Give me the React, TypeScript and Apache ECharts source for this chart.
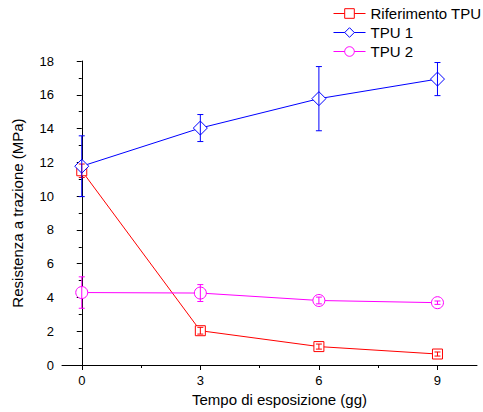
import React, { useEffect, useRef } from "react";
import * as echarts from "echarts";

const xValues = [0, 3, 6, 9];
const refMean = [11.5, 2.03, 1.09, 0.65];
const refErr = [0.4, 0.2, 0.15, 0.12];
const tpu1Mean = [11.77, 14.03, 15.77, 16.93];
const tpu1Err = [1.8, 0.8, 1.9, 0.98];
const tpu2Mean = [4.29, 4.26, 3.82, 3.69];
const tpu2Err = [0.93, 0.5, 0.2, 0.1];
const xMajorTicks = [0, 3, 6, 9];
const xMinorTicks = [1.5, 4.5, 7.5];
const seriesNames = ["Riferimento TPU", "TPU 1", "TPU 2"];

const RED = "#ff0000";
const BLUE = "#0000ff";
const MAG = "#ff00ff";
const FONT = "Liberation Sans, Arial, sans-serif";

function errData(mean: number[], err: number[]) {
  return xValues.map((x, i) => [x, mean[i] - err[i], mean[i] + err[i]]);
}

function errSeries(mean: number[], err: number[], color: string) {
  return {
    type: "custom",
    xAxisIndex: 0,
    yAxisIndex: 0,
    z: 5,
    silent: true,
    data: errData(mean, err),
    renderItem: (params: any, api: any) => {
      const x = api.value(0);
      const lo = api.coord([x, api.value(1)]);
      const hi = api.coord([x, api.value(2)]);
      const w = 3;
      const style = { stroke: color, lineWidth: 1, fill: "none" };
      return {
        type: "group",
        children: [
          { type: "line", shape: { x1: lo[0], y1: lo[1], x2: hi[0], y2: hi[1] }, style },
          { type: "line", shape: { x1: lo[0] - w, y1: lo[1], x2: lo[0] + w, y2: lo[1] }, style },
          { type: "line", shape: { x1: hi[0] - w, y1: hi[1], x2: hi[0] + w, y2: hi[1] }, style },
        ],
      };
    },
  };
}

function lineSeries(name: string, mean: number[], color: string, symbol: string, size: number) {
  return {
    name,
    type: "line",
    xAxisIndex: 0,
    yAxisIndex: 0,
    data: xValues.map((x, i) => [x, mean[i]]),
    symbol,
    symbolSize: size,
    showAllSymbol: true,
    z: 3,
    lineStyle: { color, width: 1 },
    itemStyle: { color: "#ffffff", borderColor: color, borderWidth: 1 },
  };
}

function legendItem(name: string, color: string) {
  return {
    name,
    itemStyle: { color: "#ffffff", borderColor: color, borderWidth: 1 },
    lineStyle: { color, width: 1 },
  };
}

export default function App() {
  const ref = useRef<HTMLDivElement>(null);
  useEffect(() => {
    document.body.style.margin = "0";
    const chart = echarts.init(ref.current!, null, { renderer: "svg" });
    chart.setOption({
      animation: false,
      backgroundColor: "#ffffff",
      textStyle: { fontFamily: FONT },
      grid: { left: 62, right: 6, top: 61, bottom: 47, containLabel: false },
      legend: {
        orient: "vertical",
        left: 328,
        top: 1,
        padding: 5,
        itemWidth: 32,
        itemHeight: 12,
        itemGap: 4,
        textStyle: { fontFamily: FONT, fontSize: 15, color: "#000" },
        data: [
          legendItem(seriesNames[0], RED),
          legendItem(seriesNames[1], BLUE),
          legendItem(seriesNames[2], MAG),
        ],
      },
      xAxis: [
        {
          type: "value",
          min: -0.5,
          max: 10,
          position: "bottom",
          name: "Tempo di esposizione (gg)",
          nameLocation: "middle",
          nameGap: 27,
          nameTextStyle: { fontFamily: FONT, fontSize: 15, color: "#000", padding: [0, 0, 0, 20] },
          splitLine: { show: false },
          axisLine: { show: true, lineStyle: { color: "#000", width: 1 } },
          axisTick: { show: true, customValues: xMajorTicks, length: 5, lineStyle: { color: "#000" } },
          axisLabel: { customValues: xMajorTicks, fontFamily: FONT, fontSize: 13, color: "#000", margin: 9 },
        },
        {
          type: "value",
          min: -0.5,
          max: 10,
          position: "bottom",
          splitLine: { show: false },
          axisLine: { show: false },
          axisTick: { show: true, customValues: xMinorTicks, length: 3, lineStyle: { color: "#000" } },
          axisLabel: { show: false },
        },
      ],
      yAxis: {
        type: "value",
        min: 0,
        max: 18,
        interval: 2,
        name: "Resistenza a trazione (MPa)",
        nameLocation: "middle",
        nameGap: 37,
        nameTextStyle: { fontFamily: FONT, fontSize: 15, color: "#000" },
        splitLine: { show: false },
        axisLine: { show: true, lineStyle: { color: "#000", width: 1 } },
        axisTick: { show: true, length: 5, lineStyle: { color: "#000" } },
        minorTick: { show: true, splitNumber: 2, length: 3, lineStyle: { color: "#000" } },
        axisLabel: { fontFamily: FONT, fontSize: 13, color: "#000", margin: 8 },
      },
      series: [
        lineSeries(seriesNames[0], refMean, RED, "rect", 10),
        lineSeries(seriesNames[1], tpu1Mean, BLUE, "diamond", 14),
        lineSeries(seriesNames[2], tpu2Mean, MAG, "circle", 12),
        errSeries(refMean, refErr, RED),
        errSeries(tpu1Mean, tpu1Err, BLUE),
        errSeries(tpu2Mean, tpu2Err, MAG),
      ],
    });
    return () => chart.dispose();
  }, []);
  return <div ref={ref} style={{ width: 483, height: 412 }} />;
}
